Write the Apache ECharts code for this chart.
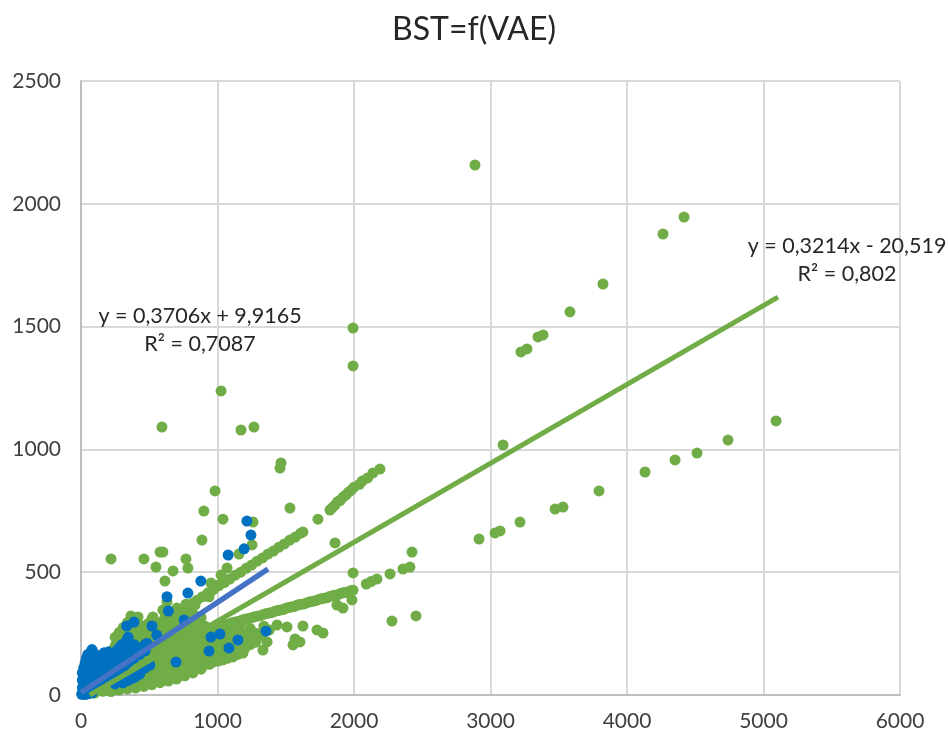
<!DOCTYPE html>
<html><head><meta charset="utf-8">
<style>html,body{margin:0;padding:0;background:#fff}#c{width:948px;height:735px}</style>
<script src="https://cdn.jsdelivr.net/npm/echarts@6/dist/echarts.min.js"></script></head>
<body><div id="c"></div>
<script>
const chartTitle = "BST=f(VAE)";
const xTicks = {min:0,max:6000,interval:1000};
const yTicks = {min:0,max:2500,interval:500};

const greenOutliers = [[2886,2158],[4264,1877],[4418,1946],[3824,1673],[3582,1560],[1993,1494],[1993,1340],[3223,1397],[3267,1409],[3348,1458],[3385,1466],[1026,1238],[593,1091],[1172,1079],[1267,1091],[1465,945],[1458,924],[982,831],[5092,1116],[4740,1038],[4513,985],[4352,957],[4132,908],[3795,831],[3092,1018],[3531,765],[3473,757],[3216,704],[3070,668],[3033,660],[2916,635],[2425,582],[2410,521],[2359,513],[2264,493],[2168,472],[2125,462],[2090,452],[1993,497],[2278,301],[2454,322],
[900,749],[1040,716],[1260,704],[886,631],[1531,761],[1736,716],[1861,619],[1253,611],[1157,574],[220,554],[461,554],[579,582],[600,582],[549,521],[674,505],[769,554],[783,517],[615,464],[1070,517],[1026,489],[952,456],[1004,448],[938,400],[703,354],[769,370],[835,366],[600,346],[527,318],[418,318],[366,322],[630,379]];

const greenUpperBand = [[500,262],[540,276],[580,290],[620,304],[660,318],[700,333],[740,347],[780,361],[815,373],[850,386],[890,400],[930,416],[970,429],[1010,445],[1050,458],[1090,472],[1130,488],[1170,500],[1210,516],[1250,529],[1290,545],[1330,558],[1370,574],[1410,586],[1450,602],[1490,615],[1530,631],[1570,643],[1610,659],[1626,664],
[1824,753],[1840,762],[1860,773],[1880,787],[1900,793],[1920,806],[1940,814],[1960,826],[1980,834],[2000,846],[2040,858],[2060,871],[2100,884],[2139,904],[2190,920]];

const greenLowerBand = [[1000,277],[1020,281],[1040,284],[1060,286],[1080,288],[1100,293],[1120,296],[1140,298],[1160,300],[1180,305],[1200,308],[1220,310],[1240,312],[1260,317],[1280,320],[1300,322],[1320,324],[1340,329],[1360,332],[1380,334],[1400,336],[1420,341],[1440,344],[1460,346],[1480,348],[1500,353],[1520,356],[1540,358],[1560,360],[1580,365],[1600,368],[1620,370],[1640,372],[1660,377],[1680,380],[1700,382],[1720,384],[1740,389],[1760,392],[1780,394],[1800,396],[1820,401],[1840,404],[1860,406],[1880,408],[1900,413],[1920,416],[1940,418],[1960,420],[1980,425],[1993,427]];

const greenScattered = [[1626,281],[1729,265],[1773,252],[1568,228],[1553,204],[1333,183],[1363,216],[1216,212],[1260,225],[1436,285],[1509,277],[1092,273],[1187,171],[1150,165],[1113,155],[1075,150],[1040,143],[1005,138],[967,134],[1919,354],[1875,366],[1985,387],[1604,216],[1290,250],[1380,265],[1180,245],[1240,265],[1340,280],[1320,240],[1280,215],[1200,190],[1130,185]];

const greenDense = [
[100,8],[100,35],[100,65],[100,90],
[160,15],[160,45],[160,75],[160,105],[160,135],
[220,14],[220,28],[220,60],[220,90],[220,120],[220,150],[220,180],
[280,20],[280,45],[280,75],[280,105],[280,135],[280,165],[280,195],[280,225],[280,255],
[340,25],[340,55],[340,85],[340,115],[340,145],[340,175],[340,205],[340,235],[340,265],[340,295],
[400,28],[400,60],[400,90],[400,120],[400,150],[400,180],[400,210],[400,240],[400,270],[400,300],
[460,35],[460,65],[460,95],[460,125],[460,155],[460,185],[460,215],[460,245],[460,275],
[520,42],[520,75],[520,105],[520,135],[520,165],[520,195],[520,225],[520,255],[520,285],[520,310],
[580,50],[580,80],[580,110],[580,140],[580,170],[580,200],[580,230],[580,260],[580,290],
[640,57],[640,90],[640,120],[640,150],[640,180],[640,210],[640,240],[640,270],[640,300],[640,330],
[700,65],[700,95],[700,125],[700,155],[700,185],[700,215],[700,245],[700,275],[700,305],[700,340],
[760,78],[760,110],[760,140],[760,170],[760,200],[760,230],[760,260],[760,290],[760,320],[760,355],
[820,90],[820,120],[820,150],[820,180],[820,210],[820,240],[820,270],[820,300],[820,330],
[880,105],[880,135],[880,165],[880,195],[880,225],[880,255],[880,285],[880,315],
[940,125],[940,150],[940,180],[940,210],[940,240],[940,270],
[990,145],[990,175],[990,205],[990,235],[990,265],
[1050,160],[1050,190],[1050,220],[1050,250],[1050,275],
[1110,170],[1110,200],[1110,240],[1110,265],
[1170,180],[1170,215],[1170,255],[1170,290],
[1240,205],[1240,230],[1240,270],
[130,20],[130,50],[130,80],[130,110],
[190,20],[190,50],[190,80],[190,110],[190,140],[190,165],
[250,22],[250,50],[250,80],[250,110],[250,140],[250,170],[250,200],[250,235],
[310,30],[310,60],[310,90],[310,120],[310,150],[310,180],[310,210],[310,240],[310,275],
[370,35],[370,65],[370,95],[370,125],[370,155],[370,185],[370,215],[370,245],[370,280],
[430,40],[430,70],[430,100],[430,130],[430,160],[430,190],[430,220],[430,250],[430,285],
[490,45],[490,80],[490,110],[490,140],[490,170],[490,200],[490,230],[490,260],[490,290],
[550,55],[550,85],[550,115],[550,145],[550,175],[550,205],[550,235],[550,265],[550,295],
[610,65],[610,95],[610,125],[610,155],[610,185],[610,215],[610,245],[610,275],[610,310],
[670,75],[670,105],[670,135],[670,165],[670,195],[670,225],[670,255],[670,285],[670,320],
[730,85],[730,115],[730,145],[730,175],[730,205],[730,235],[730,265],[730,295],[730,330],
[790,95],[790,125],[790,155],[790,185],[790,215],[790,245],[790,275],[790,305],[790,340],
[850,110],[850,140],[850,170],[850,200],[850,230],[850,260],[850,290],[850,320],
[910,130],[910,160],[910,190],[910,220],[910,250],[910,280],
[965,150],[965,180],[965,210],[965,240],[965,268]];

const blueOutliers = [[345,235],[335,281],[388,297],[520,281],[555,244],[483,211],[630,400],[640,342],[783,415],[878,464],[755,305],[1078,570],[1195,595],[1245,651],[1215,708],[1355,260],[1150,224],[1018,248],[952,236],[938,179],[1084,191],[696,134],[505,122],[470,110],[381,69],[308,49],[250,45],[430,85],[400,75],[345,60]];

const blueDense = [
[5,3],[10,5],[10,30],[10,60],[10,90],
[30,2],[30,10],[30,40],[30,70],[30,100],[30,130],
[50,5],[50,20],[50,50],[50,80],[50,110],[50,140],[50,165],
[80,8],[80,30],[80,60],[80,90],[80,120],[80,150],[80,185],
[110,45],[110,70],[110,100],[110,130],[110,150],
[140,55],[140,85],[140,115],[140,140],
[170,65],[170,90],[170,120],[170,150],[170,172],
[200,75],[200,100],[200,130],[200,160],[200,175],
[240,90],[240,120],[240,150],[240,165],
[280,105],[280,135],[280,165],[280,192],
[320,120],[320,150],[320,180],[320,210],
[350,135],[350,165],[350,195],
[390,150],[390,180],[390,205],
[430,165],[430,190],
[470,180],[470,205],
[20,15],[20,45],[20,75],[20,110],
[40,25],[40,55],[40,85],[40,115],[40,150],
[65,30],[65,65],[65,95],[65,125],[65,160],
[95,40],[95,70],[95,105],[95,135],[95,170],
[125,50],[125,75],[125,105],[125,135],
[155,60],[155,90],[155,120],[155,150],
[185,70],[185,100],[185,130],[185,160],
[220,85],[220,115],[220,145],[220,170],
[260,100],[260,130],[260,160],[260,180],
[300,115],[300,145],[300,175],[300,205],
[335,130],[335,160],[335,190],[335,220],
[370,145],[370,175],[370,205]];

const greenTrend = [[64,0],[5106,1620]];
const blueTrend = [[0,10],[1370,513]];
const greenEquation = "y = 0,3214x - 20,519";
const greenR2 = "R² = 0,802";
const blueEquation = "y = 0,3706x + 9,9165";
const blueR2 = "R² = 0,7087";

const GREEN="#70AD47", BLUE="#0070C0", BLUELINE="#4472C4", FONT="Lato, 'Open Sans', sans-serif";
const chart = echarts.init(document.getElementById('c'),null,{renderer:'canvas'});
const plain = v => String(v);
const axisBase = {
  axisLine:{show:true,onZero:false,lineStyle:{color:'#BFBFBF',width:2}},
  axisTick:{show:false},
  splitLine:{show:true,lineStyle:{color:'#D9D9D9',width:2}},
  axisLabel:{color:'#404040',fontSize:21,fontFamily:FONT,formatter:plain}
};
const txt=(x,y,t)=>({type:'text',x,y,style:{text:t,fill:'#262626',font:'21.5px '+FONT,textAlign:'center',textVerticalAlign:'middle'},z:50});
chart.setOption({
  animation:false,
  backgroundColor:'#fff',
  title:{text:chartTitle,left:'center',top:9,textStyle:{fontSize:32,fontWeight:'normal',color:'#262626',fontFamily:FONT}},
  grid:{left:81,right:48,top:81,bottom:40,containLabel:false},
  xAxis:Object.assign({type:'value'},xTicks,axisBase,{axisLabel:Object.assign({},axisBase.axisLabel,{margin:16})}),
  yAxis:Object.assign({type:'value'},yTicks,axisBase,{axisLabel:Object.assign({},axisBase.axisLabel,{margin:20})}),
  series:[
    {type:'scatter',clip:false,symbolSize:11,itemStyle:{color:GREEN,opacity:1},z:3,
     data:[].concat(greenDense,greenUpperBand,greenLowerBand,greenScattered,greenOutliers)},
    {type:'scatter',clip:false,symbolSize:11,itemStyle:{color:BLUE,opacity:1},z:4,
     data:[].concat(blueDense,blueOutliers)},
    {type:'line',clip:false,data:greenTrend,showSymbol:false,symbol:'none',lineStyle:{color:GREEN,width:5},z:5},
    {type:'line',clip:false,data:blueTrend,showSymbol:false,symbol:'none',lineStyle:{color:BLUELINE,width:5.5},z:6}
  ],
  graphic:[txt(847,246,greenEquation),txt(847,274,greenR2),txt(200,316,blueEquation),txt(200,344,blueR2)]
});
</script></body></html>
